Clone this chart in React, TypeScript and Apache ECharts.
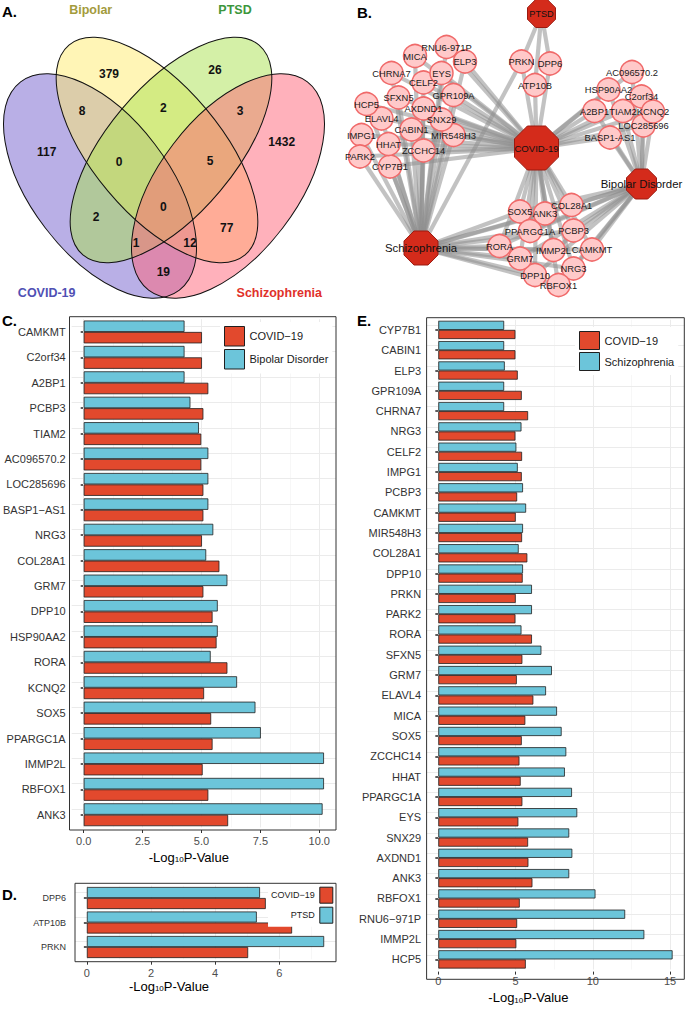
import React, { useEffect, useRef } from "react";
import * as echarts from "echarts";

const FONT = "'Liberation Sans', Arial, Helvetica, sans-serif";
const W = 685;
const H = 1009;

// ---------------- DATA ----------------
// A. Venn diagram
const vennSetLabels = ["COVID-19", "Bipolar", "PTSD", "Schizophrenia"];
const vennRegions = ["A", "B", "C", "D", "AB", "BC", "CD", "AC", "BD", "AD", "ABC", "BCD", "ACD", "ABD", "ABCD"];
const vennCounts = [117, 379, 26, 1432, 8, 2, 3, 2, 77, 19, 0, 5, 1, 12, 0];

// C. COVID-19 vs Bipolar Disorder
const bipolarGenes = ["CAMKMT", "C2orf34", "A2BP1", "PCBP3", "TIAM2", "AC096570.2", "LOC285696", "BASP1-AS1", "NRG3", "COL28A1", "GRM7", "DPP10", "HSP90AA2", "RORA", "KCNQ2", "SOX5", "PPARGC1A", "IMMP2L", "RBFOX1", "ANK3"];
const bipolarCovidLogP = [5.02, 5.02, 5.29, 5.08, 4.99, 4.99, 5.08, 5.08, 5.02, 5.76, 5.08, 5.47, 5.64, 6.1, 5.11, 5.41, 5.47, 5.05, 5.29, 6.13];
const bipolarLogP = [4.28, 4.28, 4.28, 4.53, 4.89, 5.29, 5.29, 5.29, 5.5, 5.2, 6.1, 5.69, 5.69, 5.39, 6.51, 7.29, 7.52, 10.2, 10.2, 10.14];
const cAxisTicks = [0, 2.5, 5, 7.5, 10];
const cMinorTicks = [1.25, 3.75, 6.25, 8.75];

// D. COVID-19 vs PTSD
const ptsdGenes = ["DPP6", "ATP10B", "PRKN"];
const ptsdCovidLogP = [5.58, 6.4, 5.03];
const ptsdLogP = [5.4, 5.3, 7.4];
const dAxisTicks = [0, 2, 4, 6];
const dMinorTicks = [1, 3, 5, 7];

// E. COVID-19 vs Schizophrenia
const schizoGenes = ["CYP7B1", "CABIN1", "ELP3", "GPR109A", "CHRNA7", "NRG3", "CELF2", "IMPG1", "PCBP3", "CAMKMT", "MIR548H3", "COL28A1", "DPP10", "PRKN", "PARK2", "RORA", "SFXN5", "GRM7", "ELAVL4", "MICA", "SOX5", "ZCCHC14", "HHAT", "PPARGC1A", "EYS", "SNX29", "AXDND1", "ANK3", "RBFOX1", "RNU6-971P", "IMMP2L", "HCP5"];
const schizoCovidLogP = [4.99, 4.99, 5.14, 5.4, 5.81, 4.99, 5.42, 5.4, 5.1, 5.01, 5.42, 5.76, 5.46, 5.01, 4.99, 6.06, 5.44, 5.08, 6.15, 5.63, 5.4, 5.25, 5.33, 5.44, 5.18, 5.81, 5.83, 6.09, 5.27, 5.1, 5.05, 5.66];
const schizoLogP = [4.26, 4.26, 4.3, 4.26, 4.26, 5.38, 5.05, 5.14, 5.48, 5.68, 5.48, 5.2, 5.48, 6.06, 6.06, 5.38, 6.67, 7.35, 6.97, 7.68, 7.98, 8.28, 8.19, 8.65, 8.99, 8.47, 8.67, 8.47, 10.17, 12.09, 13.33, 15.16];
const eAxisTicks = [0, 5, 10, 15];
const eMinorTicks = [2.5, 7.5, 12.5];

// B. network hubs
const hubNames = ["COVID-19", "PTSD", "Bipolar Disorder", "Schizophrenia"];

// ---------------- LAYOUT / STYLE ----------------
const COVID = "COVID\u221219";
const RED = "#e2492d";
const BLUE = "#6cc5da";

const vennShapes = [
  { cx: 100, cy: 186, rx: 131, ry: 69, deg: -52.7, fill: "rgba(115,95,205,0.5)" },
  { cx: 157, cy: 150, rx: 137, ry: 64, deg: -50, fill: "rgba(255,235,110,0.5)" },
  { cx: 171, cy: 150, rx: 137, ry: 64, deg: 50, fill: "rgba(170,225,80,0.5)" },
  { cx: 228, cy: 186, rx: 131, ry: 69, deg: 52.7, fill: "rgba(255,100,120,0.5)" },
];
const vennRegionPos: Record<string, [number, number]> = {
  A: [46.7, 151.7], B: [109, 74], C: [215, 70], D: [281.7, 141.7],
  AB: [82, 110.7], BC: [163.3, 108.3], CD: [240, 111], AC: [96, 217.3],
  BD: [226.7, 228.3], AD: [163.3, 271.7], ABC: [119, 161.7], BCD: [210, 160.7],
  ACD: [136, 242.7], ABD: [190, 242.7], ABCD: [163.3, 207.3],
};
const vennSetPos: [number, number][] = [[46.7, 292.7], [90.7, 10], [235, 10], [279.3, 292.7]];
const vennSetColors = ["#5050b4", "#a39b3c", "#3c963c", "#e0302a"];

const nodeLayout: Record<string, [number, number]> = {
  "PTSD": [541.5, 13.5], "COVID-19": [536.5, 148], "Bipolar Disorder": [641.5, 184], "Schizophrenia": [421, 248],
  "RNU6-971P": [446.5, 47], "MICA": [415, 56], "ELP3": [465, 61.5], "EYS": [441.5, 73], "CHRNA7": [391.5, 73],
  "CELF2": [423.5, 82.5], "GPR109A": [453.5, 95], "SFXN5": [398.5, 97.5], "HCP5": [366.5, 104], "AXDND1": [423.5, 108.5],
  "ELAVL4": [381.5, 118.5], "SNX29": [441.5, 119.5], "CABIN1": [411.5, 129.5], "IMPG1": [361.5, 135], "MIR548H3": [453.5, 135],
  "HHAT": [388.5, 144], "ZCCHC14": [423.5, 150.5], "PARK2": [360, 156.5], "CYP7B1": [390, 166.5],
  "PRKN": [521.5, 61.5], "DPP6": [550, 63.5], "ATP10B": [535, 85],
  "AC096570.2": [632, 72], "HSP90AA2": [608.5, 89.5], "C2orf34": [641.5, 96.5], "A2BP1": [594.5, 111], "TIAM2": [623, 111],
  "KCNQ2": [653, 111.5], "LOC285696": [643.5, 125.5], "BASP1-AS1": [610, 137.5],
  "COL28A1": [571.5, 205], "SOX5": [520, 211.5], "ANK3": [545, 213.5], "PPARGC1A": [530, 231], "PCBP3": [573.5, 230.5],
  "RORA": [499.5, 246], "IMMP2L": [553.5, 250], "CAMKMT": [592, 249.5], "GRM7": [520, 258.5], "NRG3": [573.5, 268.5],
  "DPP10": [535, 275], "RBFOX1": [558.5, 285],
};
const hubStyle: Record<string, { size: number; font: number }> = {
  "COVID-19": { size: 44, font: 9.6 },
  "PTSD": { size: 28, font: 9.2 },
  "Bipolar Disorder": { size: 30, font: 11.4 },
  "Schizophrenia": { size: 34, font: 11.4 },
};
const OCTAGON = "path://M29.3,0L70.7,0L100,29.3L100,70.7L70.7,100L29.3,100L0,70.7L0,29.3Z";

const letters: [string, number, number][] = [["A.", 2, 11], ["B.", 357, 12], ["C.", 2, 320], ["D.", 2, 894], ["E.", 357, 320]];

const barPanels = [
  {
    genes: bipolarGenes, covid: bipolarCovidLogP, other: bipolarLogP, otherName: "Bipolar Disorder",
    ticks: cAxisTicks, minor: cMinorTicks, decimals: true,
    box: { l: 69.5, r: 336, t: 316.7, b: 830 }, labelSize: 11, labelMargin: 6, tickFont: 11, tickLabelMargin: 5,
    nameGap: 17, nameShift: 30,
    legend: { left: 220, top: 322, right: undefined as any, itemWidth: 20, itemHeight: 19.5, itemGap: 2.5, fontSize: 11, align: "left", padding: 4 },
  },
  {
    genes: ptsdGenes, covid: ptsdCovidLogP, other: ptsdLogP, otherName: "PTSD",
    ticks: dAxisTicks, minor: dMinorTicks, decimals: false,
    box: { l: 75, r: 336, t: 883.3, b: 961.7 }, labelSize: 9, labelMargin: 9, tickFont: 11, tickLabelMargin: 6,
    nameGap: 14, nameShift: 73,
    legend: { left: undefined as any, top: 883.7, right: 348.7, itemWidth: 13, itemHeight: 16, itemGap: 3, fontSize: 9, align: "right", padding: 3 },
  },
  {
    genes: schizoGenes, covid: schizoCovidLogP, other: schizoLogP, otherName: "Schizophrenia",
    ticks: eAxisTicks, minor: eMinorTicks, decimals: false,
    box: { l: 426.6, r: 684.3, t: 317.7, b: 979.3 }, labelSize: 11, labelMargin: 5.5, tickFont: 11, tickLabelMargin: 3.5,
    nameGap: 14.5, nameShift: 54,
    legend: { left: 575, top: 327, right: undefined as any, itemWidth: 20, itemHeight: 18, itemGap: 2, fontSize: 11, align: "left", padding: 4 },
  },
];

function buildOption() {
  const grids: any[] = [{ left: 0, top: 0, width: W, height: H }];
  const xAxes: any[] = [{ type: "value", gridIndex: 0, min: 0, max: W, show: false }];
  const yAxes: any[] = [{ type: "value", gridIndex: 0, min: 0, max: H, inverse: true, show: false }];
  const series: any[] = [];
  const legends: any[] = [];
  const graphics: any[] = [];

  // ---- Venn (A) ----
  vennShapes.forEach((e) => {
    graphics.push({
      type: "ellipse", x: e.cx, y: e.cy, rotation: (e.deg * Math.PI) / 180, silent: true,
      shape: { cx: 0, cy: 0, rx: e.rx, ry: e.ry }, style: { fill: e.fill, stroke: "none" },
    });
  });
  vennShapes.forEach((e) => {
    graphics.push({
      type: "ellipse", x: e.cx, y: e.cy, rotation: (e.deg * Math.PI) / 180, silent: true,
      shape: { cx: 0, cy: 0, rx: e.rx, ry: e.ry }, style: { fill: "none", stroke: "#111", lineWidth: 1 },
    });
  });
  vennRegions.forEach((r, i) => {
    const [x, y] = vennRegionPos[r];
    graphics.push({
      type: "text", x, y, silent: true,
      style: { text: String(vennCounts[i]), fontSize: 12, fontWeight: "bold", fontFamily: FONT, fill: "#111", align: "center", verticalAlign: "middle" },
    });
  });
  vennSetLabels.forEach((s, i) => {
    const [x, y] = vennSetPos[i];
    graphics.push({
      type: "text", x, y, silent: true,
      style: { text: s, fontSize: 12.5, fontWeight: "bold", fontFamily: FONT, fill: vennSetColors[i], align: "center", verticalAlign: "middle" },
    });
  });
  letters.forEach(([t, x, y]) => {
    graphics.push({
      type: "text", x, y, silent: true, z: 60,
      style: { text: t, fontSize: 15, fontWeight: "bold", fontFamily: FONT, fill: "#000", align: "left", verticalAlign: "middle" },
    });
  });

  // ---- Network (B) ----
  const allGenes = Array.from(new Set([...schizoGenes, ...bipolarGenes, ...ptsdGenes]));
  const nodes: any[] = [
    ...allGenes.map((g) => ({ name: g, value: nodeLayout[g] })),
    ...hubNames.map((h) => ({
      name: h, value: nodeLayout[h], symbol: OCTAGON, symbolSize: hubStyle[h].size,
      itemStyle: { color: "#d42b1b", borderColor: "#9b1a10", borderWidth: 1 },
      label: { fontSize: hubStyle[h].font, color: "#111" },
    })),
  ];
  const links: any[] = [];
  allGenes.forEach((g) => {
    links.push({ source: g, target: "COVID-19" });
    if (bipolarGenes.includes(g)) links.push({ source: g, target: "Bipolar Disorder" });
    if (ptsdGenes.includes(g)) links.push({ source: g, target: "PTSD" });
    if (schizoGenes.includes(g)) links.push({ source: g, target: "Schizophrenia" });
  });
  series.push({
    type: "graph", layout: "none", coordinateSystem: "cartesian2d", xAxisIndex: 0, yAxisIndex: 0,
    symbol: "circle", symbolSize: 23, z: 2,
    itemStyle: { color: "#ffc9c9", borderColor: "#f06a6a", borderWidth: 1.5 },
    label: { show: true, position: "inside", fontSize: 9.4, color: "#1a1a1a", fontFamily: FONT },
    lineStyle: { color: "#8f8f8f", opacity: 0.55, width: 4.2, curveness: 0 },
    emphasis: { disabled: true },
    data: nodes, links,
  });

  // ---- Bar panels (C, D, E) ----
  barPanels.forEach((p, i) => {
    const k = i + 1;
    const n = p.genes.length;
    const band = (p.box.b - p.box.t) / (n - 1 + 1.2);
    const inset = 0.1 * band;
    const maxV = Math.max(...p.covid, ...p.other);
    grids.push({ left: p.box.l, right: W - p.box.r, top: p.box.t + inset, bottom: H - (p.box.b - inset) });
    xAxes.push({
      type: "value", gridIndex: k, min: -0.05 * maxV, max: 1.05 * maxV, offset: inset,
      axisLine: { show: false }, splitLine: { show: false },
      axisTick: { show: true, length: 3, customValues: p.ticks, lineStyle: { color: "#333", width: 1 } },
      axisLabel: {
        customValues: p.ticks, fontSize: p.tickFont, color: "#4d4d4d", margin: p.tickLabelMargin, fontFamily: FONT,
        formatter: (v: number) => (p.decimals ? v.toFixed(1) : String(v)),
      },
      name: "-Log{s|10}P-Value", nameLocation: "middle", nameGap: p.nameGap,
      nameTextStyle: {
        fontSize: 13, color: "#000", fontFamily: FONT, padding: [0, p.nameShift, 0, 0],
        rich: { s: { fontSize: 8, verticalAlign: "bottom", fontFamily: FONT, color: "#000" } },
      },
    });
    yAxes.push({
      type: "category", gridIndex: k, data: p.genes, inverse: true,
      axisLine: { show: false }, splitLine: { show: false },
      axisTick: { show: true, alignWithLabel: true, interval: 0, length: 3, lineStyle: { color: "#333", width: 1.6 } },
      axisLabel: {
        interval: 0, fontSize: p.labelSize, color: "#333", margin: p.labelMargin, fontFamily: FONT,
        formatter: (v: string) => v.replace(/-/g, "\u2212"),
      },
    });
    const gridLines = [
      ...p.ticks.map((v) => ({ xAxis: v, lineStyle: { color: "#ebebeb", width: 1, type: "solid" } })),
      ...p.minor.map((v) => ({ xAxis: v, lineStyle: { color: "#f2f2f2", width: 0.6, type: "solid" } })),
      ...p.genes.map((_, j) => ({ yAxis: j, lineStyle: { color: "#ebebeb", width: 1, type: "solid" } })),
    ];
    series.push({
      type: "bar", name: p.otherName, xAxisIndex: k, yAxisIndex: k, data: p.other,
      barGap: "0%", barCategoryGap: "10%", z: 2,
      itemStyle: { color: BLUE, borderColor: "#1f1f1f", borderWidth: 0.8 },
      emphasis: { disabled: true },
      markLine: {
        silent: true, z: 1, symbol: ["none", "none"], label: { show: false }, animation: false,
        lineStyle: { color: "#ebebeb", type: "solid", width: 1 }, emphasis: { disabled: true },
        data: gridLines,
      },
    });
    series.push({
      type: "bar", name: COVID, xAxisIndex: k, yAxisIndex: k, data: p.covid,
      barGap: "0%", barCategoryGap: "10%", z: 2,
      itemStyle: { color: RED, borderColor: "#1f1f1f", borderWidth: 0.8 },
      emphasis: { disabled: true },
    });
    const lg: any = {
      data: [COVID, p.otherName], orient: "vertical", top: p.legend.top,
      itemWidth: p.legend.itemWidth, itemHeight: p.legend.itemHeight, itemGap: p.legend.itemGap,
      icon: "rect", align: p.legend.align, backgroundColor: "#fff", padding: p.legend.padding,
      selectedMode: false, itemStyle: { borderColor: "#1f1f1f", borderWidth: 1 },
      textStyle: { fontSize: p.legend.fontSize, color: "#1a1a1a", fontFamily: FONT },
    };
    if (p.legend.left !== undefined) lg.left = p.legend.left;
    if (p.legend.right !== undefined) lg.right = p.legend.right;
    legends.push(lg);
    graphics.push({
      type: "rect", z: 50, silent: true,
      shape: { x: p.box.l, y: p.box.t, width: p.box.r - p.box.l, height: p.box.b - p.box.t },
      style: { fill: "none", stroke: "#333", lineWidth: 1 },
    });
  });

  return {
    animation: false,
    textStyle: { fontFamily: FONT },
    grid: grids,
    xAxis: xAxes,
    yAxis: yAxes,
    legend: legends,
    series,
    graphic: { elements: graphics },
  };
}

export default function App() {
  const ref = useRef<HTMLDivElement>(null);
  useEffect(() => {
    document.body.style.margin = "0";
    const chart = echarts.init(ref.current as HTMLDivElement, null, { renderer: "svg", width: W, height: H });
    chart.setOption(buildOption() as any);
    return () => chart.dispose();
  }, []);
  return <div ref={ref} style={{ width: W, height: H }} />;
}
